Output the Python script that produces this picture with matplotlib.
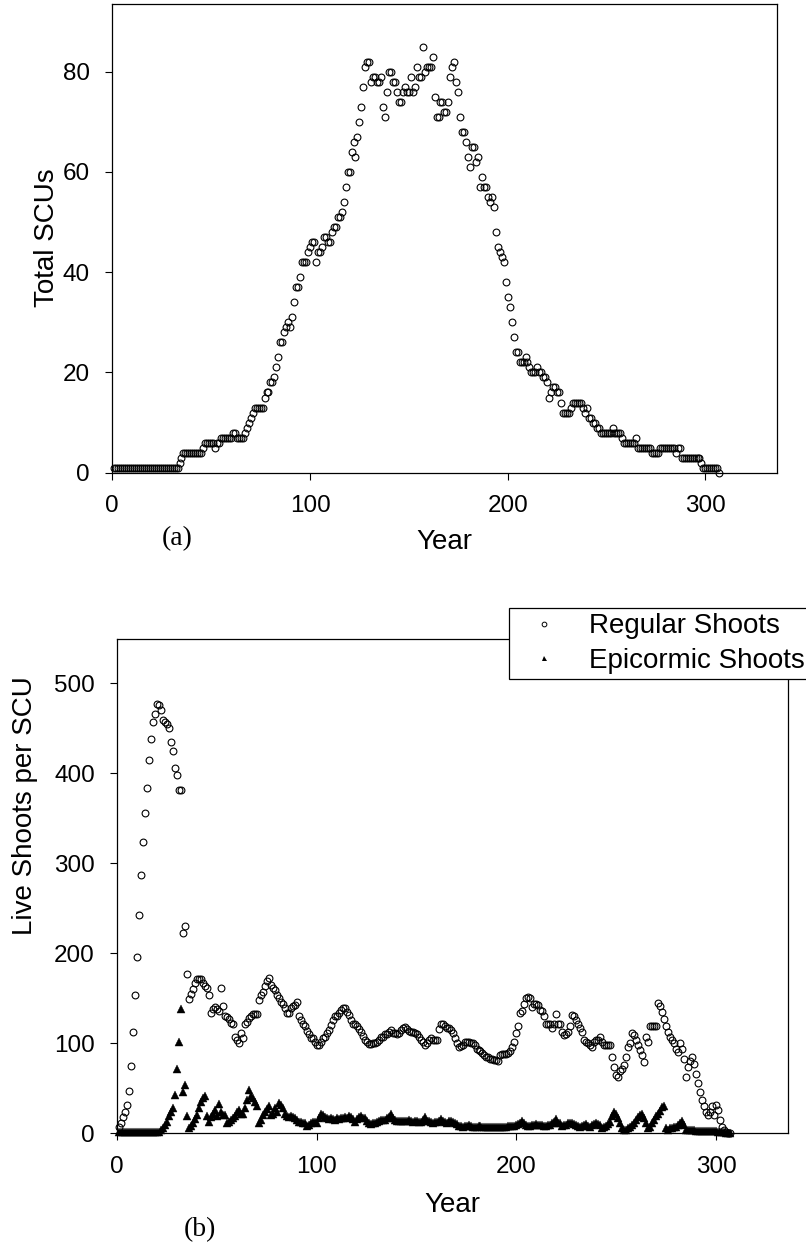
import matplotlib
matplotlib.use("Agg")
import matplotlib.pyplot as plt
from matplotlib.lines import Line2D

plt.rcParams['font.family'] = ['Liberation Sans', 'DejaVu Sans']

# ---------------- data ----------------
total_scus = [
    1, 1, 1, 1, 1, 1, 1, 1, 1, 1,
    1, 1, 1, 1, 1, 1, 1, 1, 1, 1,
    1, 1, 1, 1, 1, 1, 1, 1, 1, 1,
    1, 1, 1, 2, 3, 4, 4, 4, 4, 4,
    4, 4, 4, 4, 4, 5, 6, 6, 6, 6,
    6, 5, 6, 6, 7, 7, 7, 7, 7, 7,
    8, 8, 7, 7, 7, 7, 8, 9, 10, 11,
    12, 13, 13, 13, 13, 13, 15, 16, 16, 18,
    18, 19, 21, 23, 26, 26, 28, 29, 30, 29,
    31, 34, 37, 37, 39, 42, 42, 42, 44, 45,
    46, 46, 42, 44, 44, 45, 47, 47, 46, 46,
    48, 49, 49, 51, 51, 52, 54, 57, 60, 60,
    64, 66, 63, 67, 70, 73, 77, 81, 82, 82,
    78, 79, 79, 78, 78, 79, 73, 71, 76, 80,
    80, 78, 78, 76, 74, 74, 76, 77, 76, 76,
    79, 76, 77, 81, 79, 79, 85, 80, 81, 81,
    81, 83, 75, 71, 71, 74, 74, 72, 72, 74,
    79, 81, 82, 78, 76, 71, 68, 68, 66, 63,
    61, 65, 65, 62, 63, 57, 59, 57, 57, 55,
    54, 55, 53, 48, 45, 44, 43, 42, 38, 35,
    33, 30, 27, 24, 24, 22, 22, 22, 23, 22,
    21, 20, 20, 20, 21, 20, 20, 19, 19, 18,
    15, 16, 17, 17, 16, 16, 14, 12, 12, 12,
    12, 13, 14, 14, 14, 14, 14, 13, 12, 13,
    11, 11, 10, 10, 9, 9, 8, 8, 8, 8,
    8, 8, 9, 8, 8, 8, 8, 7, 6, 6,
    6, 6, 6, 6, 7, 5, 5, 5, 5, 5,
    5, 5, 4, 4, 4, 4, 5, 5, 5, 5,
    5, 5, 5, 5, 4, 5, 5, 3, 3, 3,
    3, 3, 3, 3, 3, 3, 3, 2, 1, 1,
    1, 1, 1, 1, 1, 1, 0,
]

regular_shoots = [
    7, 11, 18, 24, 31, 47, 75, 113, 154, 196,
    243, 287, 324, 356, 384, 415, 438, 457, 466, 477,
    476, 470, 459, 457, 455, 450, 435, 425, 406, 398,
    381, 381, 223, 230, 177, 149, 155, 160, 167, 171,
    172, 171, 167, 164, 162, 154, 134, 138, 140, 138,
    136, 162, 141, 130, 129, 127, 123, 121, 107, 104,
    100, 112, 106, 122, 124, 128, 130, 133, 133, 133,
    148, 154, 157, 164, 169, 173, 165, 161, 159, 154,
    150, 146, 144, 139, 134, 134, 139, 141, 143, 146,
    130, 126, 122, 119, 114, 110, 106, 106, 101, 98,
    98, 102, 106, 107, 111, 115, 120, 126, 130, 130,
    134, 137, 139, 139, 135, 131, 126, 122, 122, 119,
    116, 113, 108, 104, 101, 99, 99, 100, 100, 101,
    104, 107, 107, 110, 110, 113, 115, 112, 112, 110,
    112, 115, 117, 118, 116, 114, 113, 113, 111, 110,
    107, 104, 101, 98, 100, 104, 106, 104, 104, 104,
    116, 121, 121, 119, 117, 117, 115, 111, 106, 100,
    96, 97, 98, 101, 102, 102, 100, 100, 98, 94,
    93, 91, 89, 87, 85, 85, 83, 83, 82, 81,
    80, 87, 88, 88, 88, 89, 92, 96, 102, 111,
    119, 134, 136, 144, 150, 151, 150, 140, 144, 144,
    143, 137, 136, 130, 122, 122, 121, 117, 122, 133,
    122, 122, 113, 109, 110, 113, 119, 131, 130, 126,
    121, 117, 113, 104, 102, 100, 98, 96, 102, 104,
    104, 107, 102, 98, 98, 98, 98, 85, 74, 65,
    63, 69, 72, 76, 85, 96, 100, 112, 109, 104,
    98, 93, 87, 79, 107, 102, 119, 119, 119, 119,
    145, 141, 135, 127, 119, 113, 107, 104, 100, 94,
    90, 100, 94, 83, 63, 74, 80, 85, 77, 66,
    56, 46, 37, 30, 24, 20, 24, 30, 20, 31,
    26, 15, 7, 4, 2, 0, 0,
]

epicormic_shoots = [
    1, 1, 1, 1, 1, 1, 1, 1, 1, 1,
    1, 1, 1, 1, 1, 1, 1, 1, 1, 1,
    1, 4, 6, 9, 13, 19, 24, 28, 43, 71,
    101, 138, 46, 54, 19, 6, 8, 12, 16, 20,
    28, 35, 39, 41, 19, 13, 18, 22, 26, 19,
    33, 24, 20, 20, 11, 13, 15, 17, 19, 24,
    26, 22, 22, 28, 37, 48, 41, 39, 35, 30,
    12, 15, 20, 24, 27, 30, 20, 22, 28, 24,
    34, 31, 28, 22, 19, 18, 19, 18, 17, 15,
    13, 13, 12, 12, 8, 9, 12, 13, 13, 12,
    17, 22, 20, 18, 17, 16, 17, 16, 15, 17,
    16, 17, 17, 18, 17, 19, 18, 16, 13, 16,
    18, 19, 17, 17, 14, 11, 10, 12, 12, 13,
    14, 15, 15, 15, 17, 18, 22, 17, 15, 14,
    14, 14, 14, 14, 14, 15, 14, 13, 14, 14,
    13, 13, 15, 18, 14, 14, 13, 12, 13, 13,
    14, 16, 14, 13, 12, 14, 14, 13, 11, 10,
    8, 8, 7, 8, 8, 9, 8, 7, 7, 7,
    8, 8, 7, 7, 7, 7, 7, 7, 7, 7,
    7, 7, 7, 7, 7, 8, 8, 8, 8, 9,
    10, 11, 14, 11, 9, 8, 8, 9, 9, 10,
    9, 9, 9, 8, 8, 9, 9, 11, 13, 16,
    11, 11, 8, 9, 9, 11, 11, 12, 10, 9,
    8, 7, 8, 9, 10, 8, 7, 9, 10, 11,
    10, 9, 6, 7, 8, 10, 13, 19, 24, 22,
    17, 11, 6, 4, 4, 6, 7, 9, 12, 15,
    18, 20, 22, 17, 12, 6, 7, 11, 15, 19,
    22, 25, 29, 30, 6, 4, 6, 6, 7, 7,
    9, 12, 14, 9, 4, 4, 4, 4, 4, 3,
    3, 3, 3, 3, 3, 3, 3, 3, 3, 3,
    2, 2, 2, 1, 0, 0, 0,
]

years_a = list(range(1, len(total_scus) + 1))
years_reg = list(range(1, len(regular_shoots) + 1))
years_epi = list(range(1, len(epicormic_shoots) + 1))

x_ticks = [0, 100, 200, 300]
y_ticks_a = [0, 20, 40, 60, 80]
y_ticks_b = [0, 100, 200, 300, 400, 500]

# ---------------- figure ----------------
W, H = 806, 1249
fig = plt.figure(figsize=(W / 100, H / 100), dpi=100)


def fx(px):
    return px / W


def fy(py):
    return 1 - py / H


ax1 = fig.add_axes([fx(112.3), fy(472.7), fx(777) - fx(112.3), fy(4) - fy(472.7)])
ax2 = fig.add_axes([fx(117.2), fy(1133.3), fx(788.3) - fx(117.2), fy(639.3) - fy(1133.3)])

circ_kw = dict(linestyle='none', marker='o', mfc='none', mec='black',
               ms=4.9, mew=0.8, clip_on=False)

ax1.plot(years_a, total_scus, **circ_kw)
ax2.plot(years_reg, regular_shoots, **circ_kw)
ax2.plot(years_epi, epicormic_shoots, linestyle='none', marker='^',
         color='black', ms=5.2, mew=0.3, clip_on=False)

for ax, yt in ((ax1, y_ticks_a), (ax2, y_ticks_b)):
    ax.set_xticks(x_ticks)
    ax.set_yticks(yt)
    ax.tick_params(direction='out', length=5, width=0.8, labelsize=17.5,
                   pad=11, colors='black')
    for s in ax.spines.values():
        s.set_linewidth(0.9)
        s.set_color('black')

ax1.set_xlim(0, 336.2)
ax1.set_ylim(0, 93.5)
ax2.set_xlim(0, 336.2)
ax2.set_ylim(0, 549)

# axis labels
fig.text(fx(47), fy(238), 'Total SCUs', rotation=90, ha='center', va='center',
         fontsize=20)
fig.text(fx(444.6), fy(549), 'Year', ha='center', va='baseline', fontsize=20)
fig.text(fx(177), fy(545), '(a)', ha='center', va='baseline', fontsize=20,
         family=['Liberation Serif', 'DejaVu Serif'])

fig.text(fx(25), fy(806), 'Live Shoots per SCU', rotation=90, ha='center',
         va='center', fontsize=20)
fig.text(fx(452.8), fy(1212), 'Year', ha='center', va='baseline', fontsize=20)
fig.text(fx(200), fy(1236), '(b)', ha='center', va='baseline', fontsize=20,
         family=['Liberation Serif', 'DejaVu Serif'])

# legend
handles = [
    Line2D([], [], linestyle='none', marker='o', mfc='none', mec='black',
           ms=3.4, mew=0.7, label='Regular Shoots'),
    Line2D([], [], linestyle='none', marker='^', color='black', ms=3.6,
           mew=0, label='Epicormic Shoots'),
]
leg = ax2.legend(handles=handles, loc='upper left',
                 bbox_to_anchor=(fx(509), fy(608)),
                 bbox_transform=fig.transFigure, borderaxespad=0,
                 fontsize=20, frameon=True, fancybox=False, framealpha=1,
                 edgecolor='black', borderpad=0.19, labelspacing=0.31,
                 handlelength=2.14, handletextpad=0.55)
leg.get_frame().set_linewidth(0.9)

fig.savefig('out.png', dpi=100)
